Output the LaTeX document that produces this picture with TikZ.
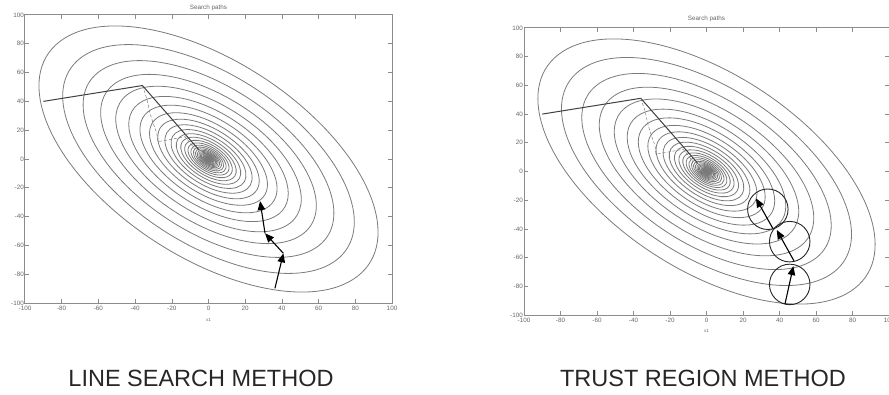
\documentclass[tikz,border=0pt]{standalone}
\usepackage{fontspec}
\setmainfont{Liberation Sans}
\usepackage{tikz}
\usetikzlibrary{
  arrows.meta            % Triangle tips on the step arrows
}

\begin{document}
\begin{tikzpicture}[x=1pt, y=1pt,
  axframe/.style={draw=black!45, line width=1pt},
  axtick/.style={draw=black!45, line width=0.6pt},
  levelset/.style={draw=black!52, line width=0.8pt},
  ticklabel/.style={text=black!60, font=\fontsize{6.3}{6.5}\selectfont, inner sep=1pt},
  searchline/.style={draw=black!75, line width=1pt},
  subpath/.style={draw=black!55, line width=0.45pt, densely dashed},
  stepto/.style={draw=black, line width=1.1pt, -{Triangle[length=9pt,width=7.5pt]}},
  trustcircle/.style={draw=black!85, line width=0.9pt, circle, minimum size=40.5pt, inner sep=0pt},
  method/.style={text=black!85, font=\fontsize{23.5}{26}\selectfont}
]
            \useasboundingbox (0,0) rectangle (889,394);
            \clip (0,0) rectangle (889,394);

            % left panel: line search
            \begin{scope}[shift={(208.5,235)}, xscale=1.835, yscale=1.44]
                \foreach \k in {0,...,44}
                    \draw[levelset, rotate=-45] (0,0) ellipse ({115*0.86^\k} and {62*0.86^\k});
                \draw[axframe] (-100,-100) rectangle (100,100);
                \foreach \t in {-80,-60,...,80}
                    \draw[axtick] (\t,-100) -- ++(0,2.5) (\t,100) -- ++(0,-2.5)
                                  (-100,\t) -- ++(2,0) (100,\t) -- ++(-2,0);
                \foreach \t in {-100,-80,...,100} {
                    \node[ticklabel, anchor=north, yshift=-1.5pt] (lx\t) at (\t,-100) {\t};
                    \node[ticklabel, anchor=east] (ly\t) at (-100,\t) {\t};
                }
                \node[ticklabel, yshift=7pt] (ltitle) at (0,100) {Search paths};
                \node[ticklabel, font=\fontsize{4.5}{5}\selectfont, yshift=-17pt] (lxname) at (0,-100) {x1};
                \coordinate (ls0) at (-90,40);
                \coordinate (ls1) at (-36,51);
                \coordinate (ls2) at (-5,6);
                \draw[searchline] (ls0) -- (ls1) -- (ls2);
                \draw[subpath] (ls1) -- (-33.7,42.2) -- (-31.9,31.9) -- (-30.2,25) -- (-28.2,18)
                               -- (-27.7,12) -- (-12.8,15.5) -- (-8,8) -- (-7,3);
                \coordinate (la0) at (36.2,-89.8);
                \coordinate (la1) at (40.8,-65.5);
                \coordinate (la2) at (30.8,-51.6);
                \coordinate (la3) at (28.1,-29.2);
                \draw[stepto] (la0) -- (la1);
                \draw[stepto] (la1) -- (la2);
                \draw[stepto] (la2) -- (la3);
            \end{scope}

            % right panel: trust region
            \begin{scope}[shift={(706.5,222.5)}, xscale=1.825, yscale=1.435]
                \foreach \k in {0,...,44}
                    \draw[levelset, rotate=-45] (0,0) ellipse ({115*0.86^\k} and {62*0.86^\k});
                \draw[axframe] (-100,-100) rectangle (100,100);
                \foreach \t in {-80,-60,...,80}
                    \draw[axtick] (\t,-100) -- ++(0,2.5) (\t,100) -- ++(0,-2.5)
                                  (-100,\t) -- ++(2,0) (100,\t) -- ++(-2,0);
                \foreach \t in {-100,-80,...,100} {
                    \node[ticklabel, anchor=north, yshift=-1.5pt] (rx\t) at (\t,-100) {\t};
                    \node[ticklabel, anchor=east] (ry\t) at (-100,\t) {\t};
                }
                \node[ticklabel, yshift=9pt] (rtitle) at (0,100) {Search paths};
                \node[ticklabel, font=\fontsize{4.5}{5}\selectfont, yshift=-16pt] (rxname) at (0,-100) {x1};
                \coordinate (rs0) at (-90,40);
                \coordinate (rs1) at (-36,51);
                \coordinate (rs2) at (-5,6);
                \draw[searchline] (rs0) -- (rs1) -- (rs2);
                \draw[subpath] (rs1) -- (-33.7,42.2) -- (-31.9,31.9) -- (-30.2,25) -- (-28.2,18)
                               -- (-27.7,12) -- (-12.8,15.5) -- (-8,8) -- (-7,3);
                \node[trustcircle] (tr1) at (33.6,-26.3) {};
                \node[trustcircle] (tr2) at (45.6,-48.9) {};
                \node[trustcircle] (tr3) at (45.6,-78.7) {};
                \coordinate (ra0) at (43.0,-92.3);
                \coordinate (ra1) at (47.6,-65.9);
                \coordinate (ra2) at (47.9,-62.2);
                \coordinate (ra3) at (38.5,-40.8);
                \coordinate (ra4) at (36.3,-39.6);
                \coordinate (ra5) at (27.1,-18.7);
                \draw[stepto] (ra0) -- (ra1);
                \draw[stepto] (ra2) -- (ra3);
                \draw[stepto] (ra4) -- (ra5);
            \end{scope}

            \node[method] (lsname) at (201,16) {LINE SEARCH METHOD};
            \node[method] (trname) at (703,16) {TRUST REGION METHOD};
        \end{tikzpicture}
\end{document}
